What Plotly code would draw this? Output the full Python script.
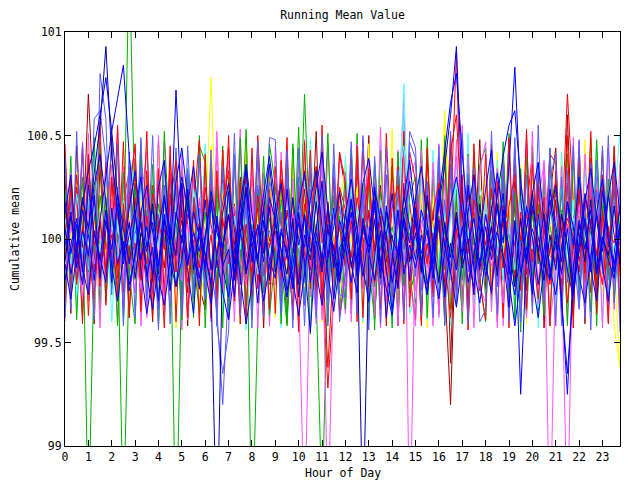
import plotly.graph_objects as go

# sample times: every quarter hour from 0:00 to 23:45
hours = [i / 4 for i in range(96)]

y_ticks = [99, 99.5, 100, 100.5, 101]
y_tick_text = ["99", "99.5", "100", "100.5", "101"]
x_ticks = list(range(24))

s01_red = [
    100.12, 99.85, 100.31, 100.05, 99.78, 100.22, 100.40, 99.95, 100.08, 99.70, 100.18, 100.33,
    99.92, 100.15, 99.81, 100.26, 100.02, 99.74, 100.11, 99.89, 100.35, 100.07, 99.83, 100.19,
    99.96, 100.28, 99.72, 100.09, 100.44, 99.87, 100.13, 99.79, 100.24, 100.01, 99.68, 100.16,
    99.91, 100.37, 100.04, 99.76, 100.21, 99.88, 100.10, 100.30, 99.82, 99.28, 99.73, 100.25,
    100.14, 99.86, 100.32, 99.98, 99.69, 100.20, 100.03, 99.84, 100.27, 100.11, 99.77, 100.17,
    99.93, 100.38, 100.05, 99.80, 100.23, 99.90, 100.12, 100.90, 99.85, 100.29, 100.00, 99.75,
    100.18, 99.94, 100.34, 100.08, 99.71, 100.22, 99.87, 100.15, 100.41, 99.96, 100.10, 99.78,
    100.26, 100.03, 100.70, 100.19, 99.89, 100.13, 99.74, 100.24, 100.06, 99.83, 100.31, 99.88,
]
s02_green = [
    99.94, 100.08, 99.81, 100.17, 98.60, 99.88, 100.21, 99.97, 99.76, 100.12, 99.90, 101.40,
    100.05, 99.72, 100.14, 99.86, 100.28, 99.99, 99.67, 100.09, 99.83, 100.19, 99.92, 99.64,
    100.06, 99.80, 100.23, 99.95, 99.70, 100.11, 99.85, 100.32, 98.50, 99.62, 100.04, 99.78,
    100.16, 99.89, 99.58, 100.10, 99.84, 100.70, 99.96, 99.73, 98.70, 99.82, 100.02, 99.66,
    99.93, 100.20, 99.79, 100.07, 99.87, 99.61, 100.15, 99.94, 99.74, 100.24, 99.88, 100.03,
    99.69, 100.18, 99.90, 99.77, 100.09, 99.85, 100.27, 99.98, 99.65, 100.12, 99.83, 100.05,
    99.72, 100.21, 99.93, 99.80, 100.14, 99.87, 100.01, 99.63, 100.17, 99.91, 99.76, 100.08,
    99.86, 100.22, 99.97, 99.68, 100.11, 99.84, 100.04, 99.75, 100.16, 99.92, 99.79, 100.10,
]
s03_magenta = [
    100.21, 99.98, 100.09, 99.83, 100.30, 100.14, 99.91, 100.26, 100.03, 99.79, 100.35, 100.07,
    99.88, 100.19, 100.42, 99.95, 100.12, 99.74, 100.27, 100.01, 99.86, 100.33, 100.10, 99.81,
    100.24, 100.05, 99.77, 100.16, 100.38, 99.92, 100.08, 99.85, 100.29, 100.13, 99.90, 100.20,
    100.02, 99.84, 100.31, 100.09, 99.76, 98.60, 99.94, 100.18, 100.36, 99.87, 100.11, 99.97,
    100.25, 100.04, 99.82, 100.15, 100.34, 99.89, 100.07, 99.78, 100.22, 100.10, 100.70, 98.50,
    100.03, 100.19, 99.86, 100.28, 100.06, 99.80, 100.14, 100.40, 99.93, 100.17, 100.01, 99.84,
    100.23, 100.08, 99.79, 100.32, 100.12, 99.90, 100.26, 100.05, 99.83, 100.18, 100.37, 99.95,
    100.11, 99.87, 98.60, 100.06, 100.29, 99.93, 100.16, 100.02, 99.78, 100.21, 100.09, 99.88,
]
s04_cyan = [
    99.87, 100.10, 99.73, 99.96, 100.19, 99.82, 100.05, 99.69, 100.14, 99.91, 100.27, 99.78,
    100.03, 99.85, 100.22, 99.94, 99.71, 100.08, 99.88, 100.16, 99.79, 100.01, 100.31, 99.90,
    99.76, 100.13, 99.97, 99.84, 100.20, 99.68, 100.06, 99.93, 100.25, 99.81, 100.11, 99.99,
    99.86, 100.17, 99.74, 100.04, 99.92, 100.28, 99.80, 99.66, 100.09, 99.95, 100.15, 99.83,
    100.07, 99.89, 100.21, 99.77, 100.02, 99.94, 100.18, 99.85, 100.12, 99.98, 100.75, 99.87,
    99.96, 100.24, 99.81, 100.05, 99.70, 100.14, 99.92, 100.30, 99.88, 100.03, 99.79, 100.10,
    99.84, 100.19, 99.95, 99.72, 100.08, 99.90, 100.23, 99.82, 100.01, 99.67, 100.13, 99.97,
    100.20, 99.86, 100.06, 99.93, 100.26, 99.80, 100.11, 99.89, 100.02, 99.75, 100.17, 100.52,
]
s05_yellow = [
    99.65, 100.04, 99.88, 100.15, 99.79, 100.09, 99.93, 100.26, 99.84, 100.40, 99.97, 100.12,
    99.81, 100.20, 99.91, 100.07, 99.75, 100.18, 99.86, 100.02, 100.29, 99.94, 100.11, 99.78,
    100.05, 100.78, 99.90, 100.16, 99.83, 100.08, 99.96, 100.24, 99.80, 100.13, 99.89, 100.01,
    100.19, 99.85, 100.06, 99.92, 100.27, 99.77, 100.10, 99.95, 100.21, 99.87, 100.03, 99.72,
    100.14, 99.98, 100.25, 99.83, 100.07, 99.94, 100.17, 99.76, 100.04, 100.30, 99.88, 100.12,
    99.90, 100.22, 99.79, 100.09, 99.97, 100.60, 100.16, 99.86, 100.01, 99.70, 100.13, 99.95,
    100.24, 99.82, 100.06, 99.91, 100.19, 99.78, 100.11, 99.93, 100.28, 99.99, 99.85, 100.08,
    99.96, 100.15, 99.81, 100.04, 99.92, 100.21, 99.87, 100.10, 99.74, 100.02, 99.90, 99.38,
]
s06_darkred = [
    100.08, 99.90, 100.25, 99.96, 100.70, 100.13, 99.82, 100.04, 100.19, 99.87, 100.10, 99.93,
    100.27, 99.98, 99.79, 100.15, 100.02, 99.86, 100.22, 99.95, 100.09, 99.74, 100.16, 100.03,
    99.88, 100.20, 100.06, 99.83, 100.12, 99.97, 100.30, 99.91, 100.05, 99.80, 100.18, 99.99,
    100.11, 99.76, 100.14, 99.93, 100.01, 100.24, 99.85, 100.07, 99.69, 100.17, 99.94, 100.08,
    99.87, 100.21, 100.04, 99.81, 100.13, 99.96, 100.26, 99.89, 100.02, 99.78, 100.15, 100.00,
    100.09, 99.84, 100.18, 99.95, 100.06, 99.79, 99.20, 100.12, 99.92, 100.23, 99.86, 100.03,
    99.97, 100.16, 99.83, 100.10, 99.90, 100.28, 99.98, 99.75, 100.14, 99.88, 100.05, 99.93,
    100.19, 99.81, 100.07, 99.95, 100.22, 99.87, 100.01, 99.71, 100.12, 99.96, 100.25, 99.84,
]
s07_lightblue = [
    99.95, 100.17, 99.80, 100.03, 99.91, 100.24, 99.86, 100.10, 100.45, 99.98, 100.14, 99.83,
    100.06, 99.89, 100.20, 99.74, 100.12, 99.96, 100.29, 99.84, 100.05, 99.92, 100.18, 99.79,
    100.01, 99.87, 99.65, 99.20, 99.78, 100.09, 99.93, 100.15, 99.82, 100.26, 99.97, 100.04,
    99.90, 100.13, 99.76, 100.07, 99.94, 99.68, 100.11, 99.85, 100.20, 99.99, 99.81, 100.16,
    99.93, 100.06, 99.84, 100.22, 99.97, 100.10, 99.79, 100.02, 99.88, 100.25, 99.95, 100.08,
    99.82, 100.14, 99.91, 100.03, 99.73, 100.19, 99.87, 100.09, 99.96, 100.31, 99.85, 100.00,
    100.12, 99.94, 99.77, 100.17, 99.89, 100.05, 99.98, 99.70, 100.21, 99.92, 100.07, 99.84,
    100.02, 99.80, 100.15, 99.95, 99.66, 100.11, 99.90, 100.23, 99.86, 100.04, 99.79, 100.13,
]
s08_green = [
    100.15, 99.92, 100.06, 100.29, 99.84, 100.11, 99.97, 100.20, 99.88, 100.03, 98.60, 99.90,
    100.24, 99.95, 100.08, 99.80, 100.17, 99.99, 100.12, 98.50, 99.86, 100.21, 100.04, 99.91,
    100.13, 99.83, 100.27, 100.00, 99.89, 100.16, 99.94, 100.07, 99.78, 100.22, 99.96, 100.10,
    99.87, 100.19, 100.02, 99.93, 100.25, 99.81, 100.09, 99.98, 100.14, 99.85, 100.30, 100.05,
    99.92, 100.18, 99.86, 100.11, 100.01, 99.77, 100.23, 99.95, 100.06, 99.89, 100.15, 99.99,
    100.20, 99.90, 100.08, 99.83, 100.26, 100.02, 99.94, 100.13, 99.80, 100.10, 99.97, 100.21,
    99.85, 100.07, 100.16, 99.91, 100.03, 99.79, 100.24, 99.96, 100.12, 99.88, 100.05, 100.19,
    99.93, 100.14, 99.82, 100.09, 100.27, 99.97, 100.06, 99.87, 100.18, 100.00, 99.84, 100.11,
]
s09_magenta = [
    99.84, 100.06, 99.93, 99.71, 100.14, 99.88, 100.02, 99.79, 100.19, 99.95, 99.82, 100.09,
    99.91, 99.76, 100.11, 99.86, 100.03, 99.69, 100.15, 99.94, 99.80, 100.07, 99.87, 100.20,
    99.97, 99.83, 100.10, 99.74, 99.99, 100.16, 99.89, 99.78, 100.05, 99.92, 100.21, 99.85,
    100.01, 99.72, 99.95, 100.12, 99.81, 100.04, 99.90, 99.67, 100.17, 98.60, 99.86, 100.08,
    99.77, 100.13, 99.93, 99.84, 100.06, 99.70, 100.19, 99.96, 99.83, 100.10, 99.89, 100.02,
    99.75, 100.09, 99.98, 99.85, 100.22, 99.91, 99.73, 100.05, 99.88, 100.14, 99.80, 99.97,
    100.11, 99.87, 99.96, 99.69, 100.08, 99.92, 100.18, 99.83, 100.00, 99.78, 100.12, 98.50,
    99.95, 99.81, 100.07, 99.90, 100.16, 99.74, 99.99, 100.10, 99.86, 100.03, 99.77, 100.05,
]
s10_cyan = [
    100.10, 99.88, 100.22, 100.01, 99.85, 100.16, 99.94, 100.31, 100.07, 99.90, 100.19, 99.97,
    100.05, 100.26, 99.87, 100.12, 99.96, 100.20, 99.81, 100.09, 100.02, 99.89, 100.24, 100.08,
    99.93, 100.14, 100.00, 100.27, 99.86, 100.11, 99.95, 100.18, 100.04, 99.83, 100.13, 99.92,
    100.21, 99.98, 100.09, 99.84, 100.17, 100.03, 99.91, 100.25, 99.88, 100.06, 100.15, 99.95,
    100.08, 100.23, 99.90, 100.12, 100.01, 99.86, 100.19, 100.05, 99.93, 100.28, 100.45, 100.10,
    99.97, 100.13, 100.04, 99.89, 100.20, 99.94, 100.09, 100.30, 99.87, 100.16, 100.02, 99.91,
    100.18, 100.01, 99.92, 100.14, 100.06, 99.85, 100.22, 100.03, 99.95, 100.11, 99.88, 100.17,
    100.04, 100.25, 99.93, 100.10, 99.98, 100.15, 100.00, 99.87, 100.21, 100.06, 99.94, 100.12,
]
s11_red = [
    99.91, 100.13, 99.78, 100.06, 99.94, 99.71, 100.09, 99.86, 100.02, 99.75, 100.17, 99.89,
    99.98, 99.80, 100.11, 99.92, 99.68, 100.05, 99.87, 99.95, 100.14, 99.79, 99.99, 100.08,
    99.84, 100.02, 99.73, 100.10, 99.88, 99.96, 99.70, 100.07, 99.91, 100.15, 99.82, 99.97,
    100.04, 99.85, 99.93, 99.66, 100.12, 99.89, 100.01, 99.77, 99.94, 99.38, 99.90, 100.06,
    99.87, 100.09, 99.81, 99.97, 100.14, 99.79, 99.95, 100.03, 99.72, 100.11, 99.86, 99.93,
    100.07, 99.83, 99.98, 99.74, 100.10, 99.90, 99.62, 100.05, 99.88, 99.96, 100.13, 99.80,
    99.94, 100.06, 99.85, 100.16, 99.77, 99.99, 100.08, 99.83, 99.95, 99.71, 100.04, 99.92,
    99.89, 100.12, 99.69, 99.97, 100.03, 99.84, 100.10, 99.93, 99.78, 100.06, 99.87, 99.99,
]
s12_red = [
    100.02, 100.24, 99.91, 100.13, 100.36, 99.97, 100.08, 99.85, 100.27, 100.11, 99.94, 100.19,
    100.30, 100.05, 99.88, 100.22, 100.09, 99.95, 100.16, 100.38, 99.90, 100.12, 100.03, 99.86,
    100.25, 100.07, 99.93, 100.18, 100.33, 99.89, 100.10, 100.01, 99.84, 100.21, 100.06, 99.96,
    100.14, 100.29, 99.92, 100.08, 99.80, 100.17, 100.04, 100.35, 99.98, 100.11, 99.87, 100.23,
    100.06, 99.91, 100.20, 100.02, 100.32, 99.94, 100.09, 99.83, 100.15, 100.26, 100.00, 99.90,
    100.18, 100.04, 99.88, 100.13, 100.27, 99.96, 100.42, 100.60, 100.07, 99.93, 100.19, 100.10,
    99.97, 100.24, 100.05, 99.86, 100.16, 100.31, 99.99, 100.12, 99.89, 100.22, 100.03, 100.14,
    100.28, 99.95, 100.10, 100.01, 99.84, 100.19, 100.07, 99.92, 100.25, 100.04, 99.98, 100.15,
]
s13_darkblue = [
    99.89, 100.11, 99.96, 100.20, 100.05, 100.32, 100.55, 100.93, 100.40, 100.14, 99.92, 100.08,
    99.81, 100.03, 99.94, 100.17, 99.87, 100.09, 99.75, 100.13, 99.98, 100.24, 99.85, 100.06,
    99.93, 99.78, 98.50, 99.97, 100.12, 99.88, 100.19, 99.84, 100.04, 99.91, 100.15, 99.80,
    100.07, 99.95, 99.83, 100.10, 99.72, 100.02, 99.90, 100.18, 99.86, 100.05, 99.96, 99.79,
    100.14, 99.87, 100.01, 98.60, 99.92, 100.09, 99.81, 100.16, 99.94, 99.76, 100.11, 99.89,
    100.03, 99.84, 100.21, 99.97, 99.79, 100.08, 99.91, 100.13, 99.86, 100.00, 99.73, 100.17,
    99.90, 100.06, 99.82, 100.14, 99.95, 99.77, 100.10, 99.88, 100.23, 99.93, 99.80, 100.02,
    99.85, 100.12, 99.97, 99.74, 100.07, 99.89, 100.19, 99.83, 100.01, 99.92, 100.16, 99.87,
]
s14_blue = [
    100.18, 99.93, 100.07, 99.84, 100.26, 100.02, 99.90, 100.14, 99.79, 100.22, 100.05, 99.88,
    100.11, 100.30, 99.96, 100.08, 99.83, 100.19, 100.04, 99.92, 100.27, 99.87, 100.13, 100.01,
    99.86, 100.16, 100.03, 99.95, 100.23, 99.80, 100.10, 100.34, 99.97, 100.06, 99.89, 100.20,
    100.09, 99.85, 100.24, 99.99, 99.78, 100.12, 99.94, 100.05, 100.28, 99.91, 100.15, 99.82,
    100.02, 100.19, 99.88, 100.07, 99.96, 100.25, 99.84, 100.13, 100.00, 99.93, 100.21, 100.06,
    99.90, 100.14, 100.03, 99.81, 100.17, 100.35, 100.60, 100.93, 100.20, 99.98, 100.10, 99.87,
    100.12, 99.95, 100.04, 100.22, 99.83, 100.09, 99.25, 99.92, 100.16, 100.01, 99.86, 100.24,
    100.07, 99.89, 100.18, 99.97, 100.30, 100.05, 99.84, 100.13, 99.94, 100.21, 100.02, 99.91,
]
s15_blue = [
    99.97, 100.13, 99.86, 100.04, 99.92, 100.21, 99.81, 100.09, 99.95, 100.17, 99.88, 100.02,
    100.14, 99.90, 100.06, 99.83, 100.25, 100.38, 99.98, 100.72, 100.10, 99.87, 100.03, 99.94,
    100.19, 99.85, 100.08, 99.96, 100.12, 99.82, 100.01, 100.24, 99.89, 100.07, 99.93, 100.15,
    99.84, 100.05, 99.91, 100.20, 99.97, 100.11, 99.79, 100.03, 99.90, 100.16, 99.86, 100.09,
    99.99, 100.13, 99.82, 100.06, 99.94, 100.18, 99.87, 100.02, 100.22, 99.91, 100.08, 99.80,
    100.15, 99.93, 100.04, 99.88, 100.19, 99.97, 99.83, 100.10, 99.92, 100.26, 100.00, 99.85,
    100.06, 99.90, 100.17, 99.98, 100.35, 100.83, 100.20, 99.89, 100.05, 99.94, 100.12, 99.81,
    100.03, 99.72, 99.25, 99.86, 100.09, 99.95, 100.14, 99.84, 100.23, 99.99, 99.88, 100.07,
]
s16_blue = [
    99.80, 99.97, 100.10, 99.86, 99.73, 100.04, 99.91, 99.79, 100.15, 99.88, 99.99, 99.75,
    99.93, 100.08, 99.82, 99.96, 99.70, 100.12, 99.89, 99.77, 100.02, 99.85, 99.64, 100.06,
    99.92, 99.78, 100.11, 99.87, 99.95, 99.72, 100.05, 99.83, 99.98, 99.69, 100.09, 99.90,
    99.81, 100.03, 99.94, 99.76, 100.13, 99.88, 99.55, 99.99, 99.84, 100.07, 99.71, 99.96,
    100.01, 99.87, 99.74, 100.10, 99.93, 99.80, 100.04, 99.62, 99.90, 100.14, 99.83, 99.97,
    99.86, 100.02, 99.78, 99.94, 100.09, 99.72, 99.98, 99.85, 100.06, 99.79, 99.92, 100.11,
    99.88, 99.74, 100.03, 99.91, 99.67, 100.08, 99.84, 99.96, 99.73, 100.12, 99.89, 99.80,
    99.99, 99.83, 100.05, 99.77, 99.94, 100.10, 99.86, 99.70, 100.01, 99.90, 99.81, 100.04,
]
w01_blue = [
    100.12, 100.31, 99.94, 99.78, 100.05, 100.26, 100.41, 100.18, 99.87, 99.70, 99.92, 100.15,
    100.33, 100.08, 99.83, 99.66, 99.89, 100.10, 99.97, 100.28, 100.44, 100.21, 99.95, 99.81,
    100.02, 100.19, 99.90, 99.74, 99.61, 99.85, 100.07, 100.25, 100.03, 99.88, 100.14, 100.36,
    100.09, 99.86, 99.72, 99.93, 100.16, 100.32, 100.11, 99.84, 99.68, 99.91, 100.06, 100.23,
    99.96, 99.79, 100.04, 100.27, 100.39, 100.13, 99.90, 99.76, 99.63, 99.87, 100.10, 99.98,
    100.20, 100.35, 100.08, 99.85, 99.71, 99.94, 100.17, 100.30, 100.12, 99.89, 99.77, 100.01,
    100.24, 100.43, 100.15, 99.92, 99.80, 99.58, 99.83, 100.05, 100.22, 100.37, 100.09, 99.86,
    99.73, 99.95, 100.18, 100.06, 99.82, 99.69, 99.90, 100.13, 100.29, 100.02, 99.84, 100.07,
]
w02_red = [
    99.68, 100.29, 99.86, 100.44, 99.63, 100.18, 99.77, 100.37, 99.91, 100.55, 99.74, 100.21,
    100.46, 99.65, 100.33, 99.79, 100.08, 99.57, 100.40, 99.84, 100.26, 99.62, 100.15, 100.48,
    99.80, 100.31, 99.66, 100.43, 99.88, 100.17, 99.59, 100.36, 99.73, 100.50, 99.94, 100.24,
    99.64, 100.38, 99.90, 100.20, 99.55, 100.47, 99.76, 100.30, 99.69, 100.12, 99.85, 100.42,
    100.27, 99.71, 100.45, 99.62, 100.34, 99.87, 100.19, 99.58, 100.39, 99.80, 100.52, 99.67,
    100.16, 99.60, 100.37, 99.93, 100.25, 99.68, 100.48, 99.75, 100.31, 99.56, 100.22, 99.89,
    100.41, 99.73, 100.28, 99.62, 100.49, 99.81, 100.13, 99.66, 100.36, 99.90, 100.20, 99.58,
    100.33, 99.78, 100.50, 99.64, 100.24, 99.86, 100.39, 99.70, 100.14, 99.59, 100.45, 99.82,
]
w03_green = [
    100.24, 99.77, 100.06, 99.62, 100.39, 99.90, 100.47, 99.70, 100.15, 99.58, 100.32, 99.83,
    99.59, 100.41, 99.85, 100.23, 99.66, 100.52, 99.94, 100.10, 99.61, 100.34, 99.76, 100.45,
    100.37, 99.72, 100.19, 99.57, 100.30, 99.81, 100.49, 99.68, 100.07, 99.87, 100.40, 99.63,
    99.92, 100.28, 99.60, 100.46, 99.79, 100.16, 99.54, 100.35, 99.84, 100.51, 99.71, 100.11,
    99.66, 100.44, 99.82, 100.27, 99.61, 100.38, 99.95, 100.13, 99.57, 100.42, 99.78, 100.21,
    100.30, 99.64, 100.49, 99.76, 100.11, 99.59, 100.36, 99.88, 100.25, 99.67, 100.43, 99.80,
    99.60, 100.33, 99.87, 100.47, 99.69, 100.22, 99.55, 100.39, 99.82, 100.17, 99.63, 100.44,
    99.93, 100.26, 99.58, 100.40, 99.74, 100.12, 99.65, 100.48, 99.85, 100.29, 99.70, 100.06,
]
w04_magenta = [
    100.42, 99.83, 100.20, 99.66, 100.51, 99.75, 100.13, 99.89, 100.36, 99.61, 100.27, 99.95,
    99.74, 100.38, 99.62, 100.14, 99.87, 100.47, 99.69, 100.30, 99.56, 100.22, 99.92, 100.35,
    100.09, 99.60, 100.44, 99.78, 100.26, 99.93, 100.53, 99.67, 100.18, 99.84, 100.32, 99.58,
    100.45, 99.79, 100.25, 99.63, 100.37, 99.86, 100.05, 99.59, 100.41, 99.74, 100.30, 99.90,
    99.64, 100.20, 99.88, 100.48, 99.70, 100.35, 99.57, 100.16, 99.81, 100.43, 99.66, 100.29,
    100.38, 99.85, 100.12, 99.58, 100.46, 99.72, 100.24, 99.96, 100.55, 99.63, 100.19, 99.77,
    99.69, 100.31, 99.57, 100.40, 99.84, 100.23, 99.65, 100.50, 99.78, 100.10, 99.91, 100.36,
    100.15, 99.62, 100.34, 99.80, 100.47, 99.68, 100.28, 99.88, 100.06, 99.60, 100.39, 99.73,
]
w05_cyan = [
    99.78, 100.33, 99.65, 100.16, 99.88, 100.45, 99.71, 100.27, 99.60, 100.09, 99.83, 100.40,
    100.22, 99.68, 100.48, 99.90, 100.31, 99.59, 100.17, 99.76, 100.43, 99.64, 100.36, 99.86,
    100.46, 99.74, 100.11, 99.63, 100.35, 99.89, 100.24, 99.56, 100.42, 99.80, 100.14, 99.67,
    100.20, 99.57, 100.39, 99.84, 100.12, 99.70, 100.49, 99.92, 100.27, 99.61, 100.33, 99.75,
    100.40, 99.93, 100.17, 99.60, 100.29, 99.77, 100.46, 99.68, 100.23, 99.87, 100.60, 99.64,
    99.72, 100.30, 99.61, 100.43, 99.85, 100.18, 99.58, 100.37, 99.79, 100.51, 99.66, 100.25,
    100.16, 99.66, 100.38, 99.79, 100.45, 99.61, 100.21, 99.87, 100.33, 99.57, 100.28, 99.91,
    99.63, 100.42, 99.84, 100.19, 99.69, 100.35, 99.92, 100.46, 99.60, 100.23, 99.76, 100.38,
]
w06_darkred = [
    100.31, 99.64, 100.45, 99.88, 100.19, 99.59, 100.36, 99.79, 100.50, 99.70, 100.14, 99.62,
    100.39, 99.82, 100.12, 99.60, 100.47, 99.73, 100.25, 99.91, 100.34, 99.58, 100.20, 99.77,
    99.66, 100.40, 99.86, 100.29, 99.61, 100.15, 99.78, 100.48, 99.69, 100.23, 99.57, 100.37,
    99.81, 100.13, 99.59, 100.44, 99.72, 100.33, 99.90, 100.52, 99.65, 100.18, 99.80, 100.41,
    100.24, 99.67, 100.38, 99.85, 100.50, 99.62, 100.11, 99.75, 100.35, 99.58, 100.27, 99.83,
    99.61, 100.36, 99.78, 100.14, 99.64, 100.45, 99.40, 100.22, 99.70, 100.39, 99.86, 100.48,
    99.76, 100.25, 99.60, 100.41, 99.88, 100.16, 99.63, 100.47, 99.74, 100.32, 99.57, 100.20,
    100.44, 99.71, 100.60, 99.82, 100.37, 99.59, 100.26, 99.77, 100.43, 99.66, 100.18, 99.85,
]
w07_lightblue = [
    99.62, 100.21, 99.90, 100.46, 99.73, 100.58, 100.62, 100.38, 99.84, 100.25, 99.66, 100.42,
    99.85, 100.49, 99.70, 100.20, 99.56, 100.37, 99.82, 100.26, 99.63, 100.45, 99.91, 100.15,
    99.73, 100.34, 99.59, 99.35, 99.55, 100.41, 99.67, 100.19, 99.88, 100.47, 99.62, 100.28,
    100.17, 99.64, 100.43, 99.76, 100.30, 99.58, 100.24, 99.89, 100.50, 99.71, 100.36, 99.60,
    99.84, 100.47, 99.69, 100.22, 99.56, 100.40, 99.78, 100.31, 99.65, 100.14, 99.90, 100.52,
    100.44, 99.75, 100.27, 99.62, 100.39, 99.87, 100.52, 99.68, 100.17, 99.59, 100.34, 99.80,
    99.93, 100.40, 99.64, 100.28, 99.77, 100.49, 99.60, 100.15, 99.86, 100.37, 99.70, 100.44,
    99.58, 100.30, 99.79, 100.45, 99.67, 100.21, 99.56, 100.38, 99.83, 100.50, 99.69, 100.25,
]
w08_yellow = [
    100.05, 99.69, 100.32, 99.84, 100.48, 99.63, 100.20, 99.91, 100.37, 99.58, 100.26, 99.80,
    100.33, 99.61, 100.18, 99.87, 100.44, 99.72, 100.29, 99.57, 100.40, 99.83, 100.13, 99.66,
    99.88, 100.45, 99.64, 100.23, 99.78, 100.36, 99.59, 100.50, 99.75, 100.31, 99.85, 100.42,
    99.62, 100.26, 99.81, 100.41, 99.67, 100.19, 99.93, 100.35, 99.60, 100.47, 99.76, 100.14,
    100.38, 99.74, 100.14, 99.59, 100.46, 99.86, 100.30, 99.63, 100.53, 99.71, 100.21, 99.89,
    99.70, 100.35, 99.57, 100.24, 99.82, 100.62, 99.66, 100.28, 99.78, 100.43, 99.61, 100.19,
    100.29, 99.78, 100.42, 99.64, 100.18, 99.90, 100.36, 99.59, 100.47, 99.72, 100.25, 99.83,
    99.87, 100.40, 99.66, 100.31, 99.74, 100.48, 99.62, 100.20, 99.91, 100.34, 99.58, 99.38,
]
w09_blue = [
    99.88, 99.71, 99.93, 100.14, 100.02, 99.80, 100.09, 100.30, 100.52, 100.68, 100.84, 100.40,
    100.11, 99.85, 99.64, 99.82, 100.05, 100.21, 99.98, 99.77, 99.90, 100.17, 100.35, 100.08,
    99.84, 99.69, 99.91, 100.13, 100.27, 100.04, 99.81, 99.59, 99.78, 100.00, 100.22, 100.40,
    100.16, 99.94, 99.75, 99.87, 100.08, 99.96, 100.19, 100.33, 100.06, 99.83, 99.65, 99.89,
    100.12, 100.29, 100.05, 99.86, 99.70, 99.92, 100.15, 100.01, 99.79, 99.95, 100.20, 100.38,
    100.10, 99.88, 99.73, 99.97, 100.24, 100.06, 99.84, 99.67, 99.90, 100.13, 100.31, 100.04,
    99.82, 99.99, 100.21, 100.40, 100.55, 100.62, 100.28, 100.03, 99.80, 99.62, 99.88, 100.11,
    100.26, 100.02, 99.85, 99.72, 99.96, 100.18, 100.34, 100.09, 99.87, 99.70, 99.93, 100.16,
]
w10_red = [
    100.46, 99.73, 100.24, 99.59, 100.41, 99.84, 100.57, 99.68, 100.30, 99.81, 100.47, 99.62,
    100.20, 99.85, 100.52, 99.63, 100.34, 99.71, 100.45, 99.60, 100.27, 99.89, 100.38, 99.58,
    100.41, 99.62, 100.33, 99.87, 100.50, 99.70, 100.28, 99.59, 100.44, 99.76, 100.21, 99.66,
    100.35, 99.80, 100.49, 99.61, 100.26, 99.92, 100.43, 99.68, 100.55, 99.74, 100.30, 99.63,
    99.83, 100.39, 99.60, 100.47, 99.77, 100.24, 99.66, 100.51, 99.87, 100.35, 99.59, 100.42,
    100.28, 99.58, 100.44, 99.72, 100.36, 99.64, 100.50, 99.85, 100.23, 99.67, 100.46, 99.79,
    99.61, 100.46, 99.83, 100.30, 99.57, 100.39, 99.75, 100.53, 99.68, 100.26, 99.88, 100.41,
    100.37, 99.66, 100.27, 99.57, 100.44, 99.79, 100.52, 99.64, 100.31, 99.87, 100.40, 99.61,
]
w11_green = [
    99.72, 100.40, 99.61, 100.30, 99.85, 100.49, 99.66, 100.22, 99.79, 100.44, 99.60, 100.35,
    99.80, 100.47, 99.67, 100.36, 99.58, 100.26, 99.88, 100.42, 99.70, 100.31, 99.62, 100.50,
    99.57, 100.29, 99.77, 100.45, 99.64, 100.37, 99.89, 100.53, 99.61, 100.24, 99.74, 100.46,
    100.26, 99.59, 100.40, 99.83, 100.54, 99.68, 100.32, 99.75, 100.47, 99.60, 100.21, 99.89,
    100.32, 99.64, 100.51, 99.78, 100.27, 99.56, 100.43, 99.86, 100.35, 99.63, 100.48, 99.74,
    99.84, 100.48, 99.62, 100.33, 99.78, 100.50, 99.66, 100.24, 99.59, 100.41, 99.81, 100.36,
    100.44, 99.70, 100.27, 99.86, 100.51, 99.61, 100.34, 99.77, 100.45, 99.65, 100.30, 99.58,
    100.25, 99.87, 100.41, 99.63, 100.33, 99.74, 100.49, 99.58, 100.28, 99.80, 100.44, 99.68,
]
w12_blue = [
    100.05, 99.83, 99.97, 100.18, 100.33, 100.45, 100.60, 100.78, 100.52, 100.21, 99.96, 99.78,
    99.92, 100.13, 100.26, 100.04, 99.81, 99.68, 99.90, 100.11, 100.30, 100.15, 99.93, 99.76,
    100.00, 100.23, 100.08, 99.86, 99.72, 99.95, 100.17, 100.36, 100.12, 99.89, 99.70, 99.87,
    100.10, 100.27, 100.03, 99.80, 99.63, 99.84, 100.06, 100.25, 100.42, 100.14, 99.91, 99.79,
    99.97, 100.19, 99.99, 99.82, 100.02, 100.24, 100.09, 99.85, 99.66, 99.88, 100.12, 100.28,
    100.07, 99.90, 99.74, 99.96, 100.20, 100.44, 100.66, 100.80, 100.41, 100.08, 99.86, 99.69,
    99.91, 100.14, 100.32, 100.11, 99.87, 99.73, 99.94, 100.16, 100.01, 99.78, 99.95, 100.19,
    100.03, 99.70, 99.35, 99.76, 100.00, 100.22, 100.06, 99.83, 99.98, 100.21, 100.37, 100.12,
]
w13_magenta = [
    99.60, 100.32, 99.84, 100.47, 99.70, 100.23, 99.57, 100.40, 99.81, 100.53, 99.66, 100.28,
    100.44, 99.58, 100.25, 99.73, 100.50, 99.64, 100.32, 99.87, 100.41, 99.61, 100.29, 99.76,
    100.34, 99.68, 100.52, 99.74, 100.27, 99.60, 100.45, 99.82, 100.36, 99.57, 100.31, 99.79,
    99.78, 100.42, 99.66, 100.29, 99.58, 100.48, 99.72, 100.34, 99.61, 100.45, 99.85, 100.38,
    100.31, 99.60, 100.46, 99.76, 100.38, 99.63, 100.54, 99.70, 100.28, 99.58, 100.44, 99.82,
    99.58, 100.43, 99.73, 100.37, 99.62, 100.29, 99.80, 100.48, 99.65, 100.40, 99.57, 100.33,
    100.47, 99.65, 100.34, 99.58, 100.43, 99.77, 100.30, 99.62, 100.52, 99.69, 100.38, 99.60,
    99.82, 100.35, 99.60, 100.49, 99.72, 100.41, 99.84, 100.30, 99.57, 100.44, 99.66, 100.37,
]
w14_lightblue = [
    100.40, 99.66, 100.52, 99.78, 100.29, 99.61, 100.80, 100.58, 99.73, 100.46, 99.58, 100.33,
    99.62, 100.35, 99.80, 100.50, 99.67, 100.26, 99.59, 100.44, 99.86, 100.32, 99.71, 100.41,
    99.71, 100.43, 99.58, 100.35, 99.76, 100.51, 99.63, 100.27, 99.57, 100.40, 99.82, 100.49,
    100.48, 99.70, 100.31, 99.57, 100.44, 99.79, 100.37, 99.62, 100.26, 99.58, 100.46, 99.73,
    99.72, 100.36, 99.64, 100.50, 99.82, 100.27, 99.59, 100.44, 99.74, 100.33, 99.61, 100.47,
    100.39, 99.63, 100.28, 99.80, 100.45, 99.58, 100.35, 99.71, 100.51, 99.84, 100.27, 99.60,
    99.66, 100.52, 99.77, 100.36, 99.60, 100.44, 99.83, 100.31, 99.64, 100.55, 99.73, 100.29,
    100.41, 99.58, 100.33, 99.75, 100.48, 99.62, 100.37, 99.84, 100.45, 99.68, 100.32, 99.55,
]

RED, GREEN, BLUE = "#ff0000", "#00b000", "#0000ff"
MAGENTA, CYAN, YELLOW = "#ff50ff", "#50ffff", "#ffff00"
DARKRED, DARKBLUE, LIGHTBLUE = "#a00000", "#0000a0", "#5a5aff"

series = [
    (w06_darkred, DARKRED), (w08_yellow, YELLOW), (s01_red, RED), (s02_green, GREEN),
    (w05_cyan, CYAN), (s03_magenta, MAGENTA), (w11_green, GREEN), (s04_cyan, CYAN),
    (w04_magenta, MAGENTA), (s05_yellow, YELLOW), (s06_darkred, DARKRED), (w13_magenta, MAGENTA),
    (w03_green, GREEN), (s07_lightblue, LIGHTBLUE), (s08_green, GREEN), (w02_red, RED),
    (w10_red, RED), (s09_magenta, MAGENTA), (s10_cyan, CYAN), (s11_red, RED),
    (w07_lightblue, LIGHTBLUE), (w14_lightblue, LIGHTBLUE), (s12_red, RED),
    (s13_darkblue, DARKBLUE), (w01_blue, BLUE), (s14_blue, BLUE), (w09_blue, BLUE),
    (s15_blue, BLUE), (w12_blue, BLUE), (s16_blue, BLUE),
]

FONT = "DejaVu Sans Mono"
FS = 11.5

fig = go.Figure()
for vals, col in series:
    fig.add_trace(go.Scatter(x=hours, y=vals, mode="lines",
                             line=dict(color=col, width=1), showlegend=False,
                             hoverinfo="skip"))

axis_common = dict(showline=True, linecolor="black", linewidth=1, mirror="allticks",
                   ticks="inside", ticklen=6, tickcolor="black", tickwidth=1,
                   showgrid=False, zeroline=False,
                   tickfont=dict(family=FONT, size=FS, color="black"))

fig.update_xaxes(range=[0, 23.75], tickvals=x_ticks, **axis_common)
fig.update_yaxes(range=[99, 101], tickvals=y_ticks, ticktext=y_tick_text, **axis_common)

# the page body adds an 8px margin, so the figure is sized to fill the rest of the window
fig.update_layout(
    width=632, height=472,
    margin=dict(l=57, r=20, t=24, b=34, pad=0),
    paper_bgcolor="white", plot_bgcolor="white",
    font=dict(family=FONT, size=FS, color="black"),
    title=dict(text="Running Mean Value", x=0.5, xref="paper", y=1 - 7 / 472,
               yanchor="middle", font=dict(family=FONT, size=FS, color="black")),
    annotations=[
        dict(text="Hour of Day", xref="paper", yref="paper", x=0.5, y=(446 - 473) / 414,
             xanchor="center", yanchor="middle", showarrow=False,
             font=dict(family=FONT, size=FS, color="black")),
        dict(text="Cumulative mean", xref="paper", yref="paper", x=(15 - 65) / 555, y=0.5,
             xanchor="center", yanchor="middle", textangle=-90, showarrow=False,
             font=dict(family=FONT, size=FS, color="black")),
    ],
)

fig.write_html("out.html")
